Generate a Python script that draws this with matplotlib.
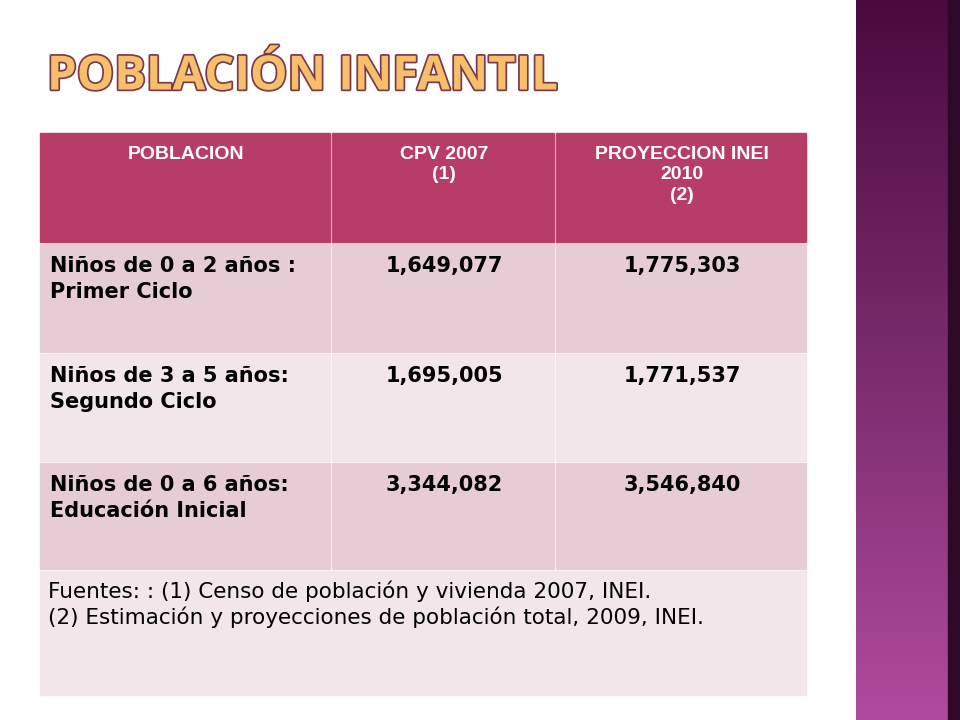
import numpy as np
import matplotlib
matplotlib.use("Agg")
import matplotlib.pyplot as plt
from matplotlib.patches import Rectangle
import matplotlib.patheffects as pe

# datos de la tabla
encabezados = ["POBLACION", "CPV 2007\n(1)", "PROYECCION INEI\n2010\n(2)"]
grupos = ["Niños de 0 a 2 años :\nPrimer Ciclo",
          "Niños de 3 a 5 años:\nSegundo Ciclo",
          "Niños de 0 a 6 años:\nEducación Inicial"]
cpv_2007 = [1649077, 1695005, 3344082]
inei_2010 = [1775303, 1771537, 3546840]
fuentes = ("Fuentes: : (1) Censo de población y vivienda 2007, INEI.\n"
           "(2) Estimación y proyecciones de población total, 2009, INEI.")

fig = plt.figure(figsize=(9.6, 7.2), dpi=100)
ax = fig.add_axes([0, 0, 1, 1])
ax.set_xlim(0, 960)
ax.set_ylim(720, 0)
ax.axis("off")

# banda lateral con degradado
grad = np.linspace(0, 1, 256).reshape(-1, 1)
cmap = matplotlib.colors.LinearSegmentedColormap.from_list("b", ["#4a0a3e", "#7a2c6c", "#b04a9e"])
ax.imshow(grad, extent=(856, 952, 720, 0), cmap=cmap, aspect="auto", zorder=1)
ax.add_patch(Rectangle((948, 0), 12, 720, color="#2e0828", zorder=2))

# título
ax.text(47, 77, "POBLACIÓN INFANTIL", fontsize=34, fontweight="bold", family="Open Sans",
        color="#f7bf6a", va="center", ha="left",
        path_effects=[pe.Stroke(linewidth=2.5, foreground="#7a3a4e"), pe.Normal()])

cols = [40, 332, 556, 808]
rows = [133, 244, 354, 463, 571, 695]
gap = 2
font = "Liberation Sans"

for j in range(3):
    x0, x1 = cols[j], cols[j + 1]
    ax.add_patch(Rectangle((x0, rows[0]), x1 - x0 - gap, rows[1] - rows[0] - gap, color="#b83c68"))
    ax.text((x0 + x1) / 2, rows[0] + 13, encabezados[j], ha="center", va="top", color="white",
            fontsize=14, fontweight="bold", family=font, linespacing=1.25)

for i in range(3):
    y0, y1 = rows[i + 1], rows[i + 2]
    fc = "#e6ccd5" if i % 2 == 0 else "#f2e6ea"
    vals = [grupos[i], f"{cpv_2007[i]:,}", f"{inei_2010[i]:,}"]
    for j in range(3):
        x0, x1 = cols[j], cols[j + 1]
        ax.add_patch(Rectangle((x0, y0), x1 - x0 - gap, y1 - y0 - gap, color=fc))
        if j == 0:
            ax.text(x0 + 10, y0 + 12, vals[j], ha="left", va="top", fontsize=15,
                    fontweight="bold", family="DejaVu Sans", linespacing=1.35, color="black")
        else:
            ax.text((x0 + x1) / 2, y0 + 12, vals[j], ha="center", va="top", fontsize=15,
                    fontweight="bold", family="DejaVu Sans", color="black")

ax.add_patch(Rectangle((cols[0], rows[4]), cols[3] - cols[0] - gap, rows[5] - rows[4], color="#f2e6ea"))
ax.text(cols[0] + 8, rows[4] + 10, fuentes, ha="left", va="top", fontsize=15.5,
        family="DejaVu Sans", linespacing=1.2, color="black")

fig.savefig("out.png", dpi=100)
